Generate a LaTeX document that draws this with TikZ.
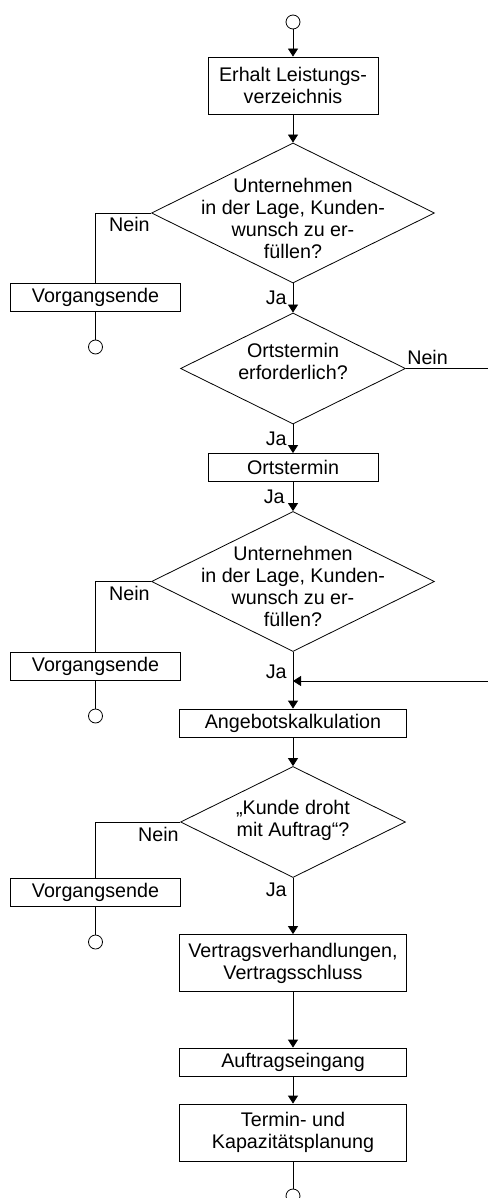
\documentclass[tikz,border=0pt]{standalone}
\usepackage{fontspec}
\setmainfont{Liberation Sans}
\usetikzlibrary{shapes.geometric, positioning, arrows.meta}

\begin{document}
\begin{tikzpicture}[
        ->,
        >={Triangle[length=8pt, width=10pt]},
        line width=0.8pt,
        x=1pt,
        y=1pt,
        every node/.style={font=\fontsize{19.7}{22}\selectfont},
        box/.style={draw, rectangle, align=center, inner sep=0pt, minimum width=170pt, minimum height=28pt},
        wide box/.style={box, minimum width=227pt},
        tall/.style={minimum height=57pt},
        decision/.style={draw, diamond, inner sep=0pt, minimum width=283pt, minimum height=140pt},
        small decision/.style={decision, minimum width=225pt, minimum height=111pt},
        question/.style={align=center, inner sep=0pt},
        connector/.style={draw, circle, inner sep=0pt, minimum size=14pt},
        answer/.style={inner sep=0pt}
    ]
    \useasboundingbox (0,0) rectangle (487,-1198);

    \node[connector] (start) at (293,-22) {};
    \node[box, tall] (e1) at (293,-85.5) {Erhalt Leistungs-\\verzeichnis};
    \node[decision] (q1) at (293,-213) {};
    \node[question, yshift=-5pt] (q1t) at (q1) {Unternehmen\\in der Lage, Kunden-\\wunsch zu er-\\füllen?};
    \node[box] (v1) at (95.5,-297.5) {Vorgangsende};
    \node[connector] (c1) at (95.5,-347) {};

    \node[small decision] (q2) at (293,-368.5) {};
    \node[question, yshift=7pt] (q2t) at (q2) {Ortstermin\\erforderlich?};
    \node[box] (o1) at (293,-467.5) {Ortstermin};

    \node[decision] (q3) at (293,-581.5) {};
    \node[question, yshift=-5pt] (q3t) at (q3) {Unternehmen\\in der Lage, Kunden-\\wunsch zu er-\\füllen?};
    \node[box] (v2) at (95.5,-666) {Vorgangsende};
    \node[connector] (c2) at (95.5,-716) {};
    \node[wide box] (a1) at (293,-723) {Angebotskalkulation};

    \node[small decision] (q4) at (293,-822) {};
    \node[question, yshift=1.5pt] (q4t) at (q4) {„Kunde droht\\mit Auftrag“?};
    \node[box] (v3) at (95.5,-892.5) {Vorgangsende};
    \node[connector] (c3) at (95.5,-942) {};

    \node[wide box, tall] (vt) at (293,-963) {Vertragsverhandlungen,\\Vertragsschluss};
    \node[wide box] (ae) at (293,-1062) {Auftragseingang};
    \node[wide box, tall] (tk) at (293,-1132.5) {Termin- und\\Kapazitätsplanung};
    \node[connector] (stop) at (293,-1196) {};

    \coordinate (merge) at (293,-681);
    \coordinate (rim) at (490,0);

    \draw (start) -- (e1);
    \draw (e1) -- (q1);
    \draw[-] (q1.west) node[answer, below left=4pt and 1pt] (nein1) {Nein} -| (v1);
    \draw[-] (v1) -- (c1);
    \draw (q1.south) node[answer, below left=7pt and 6pt] (ja1) {Ja} -- (q2);

    \draw (q2.east) node[answer, above right=3pt and 1pt] (nein2) {Nein} -- (q2.east -| rim) |- (merge);
    \draw (q2) -- node[answer, left=6pt] (ja2) {Ja} (o1);
    \draw (o1) -- node[answer, left=8pt] (ja3) {Ja} (q3);

    \draw[-] (q3.west) node[answer, below left=4pt and 1pt] (nein3) {Nein} -| (v2);
    \draw[-] (v2) -- (c2);
    \draw (q3.south) node[answer, below left=13pt and 6pt] (ja4) {Ja} -- (a1);
    \draw (a1) -- (q4);

    \draw[-] (q4.west) node[answer, below left=5pt and 1pt] (nein4) {Nein} -| (v3);
    \draw[-] (v3) -- (c3);
    \draw (q4.south) node[answer, below left=5pt and 6pt] (ja5) {Ja} -- (vt);

    \draw (vt) -- (ae);
    \draw (ae) -- (tk);
    \draw[-] (tk) -- (stop);
\end{tikzpicture}
\end{document}
